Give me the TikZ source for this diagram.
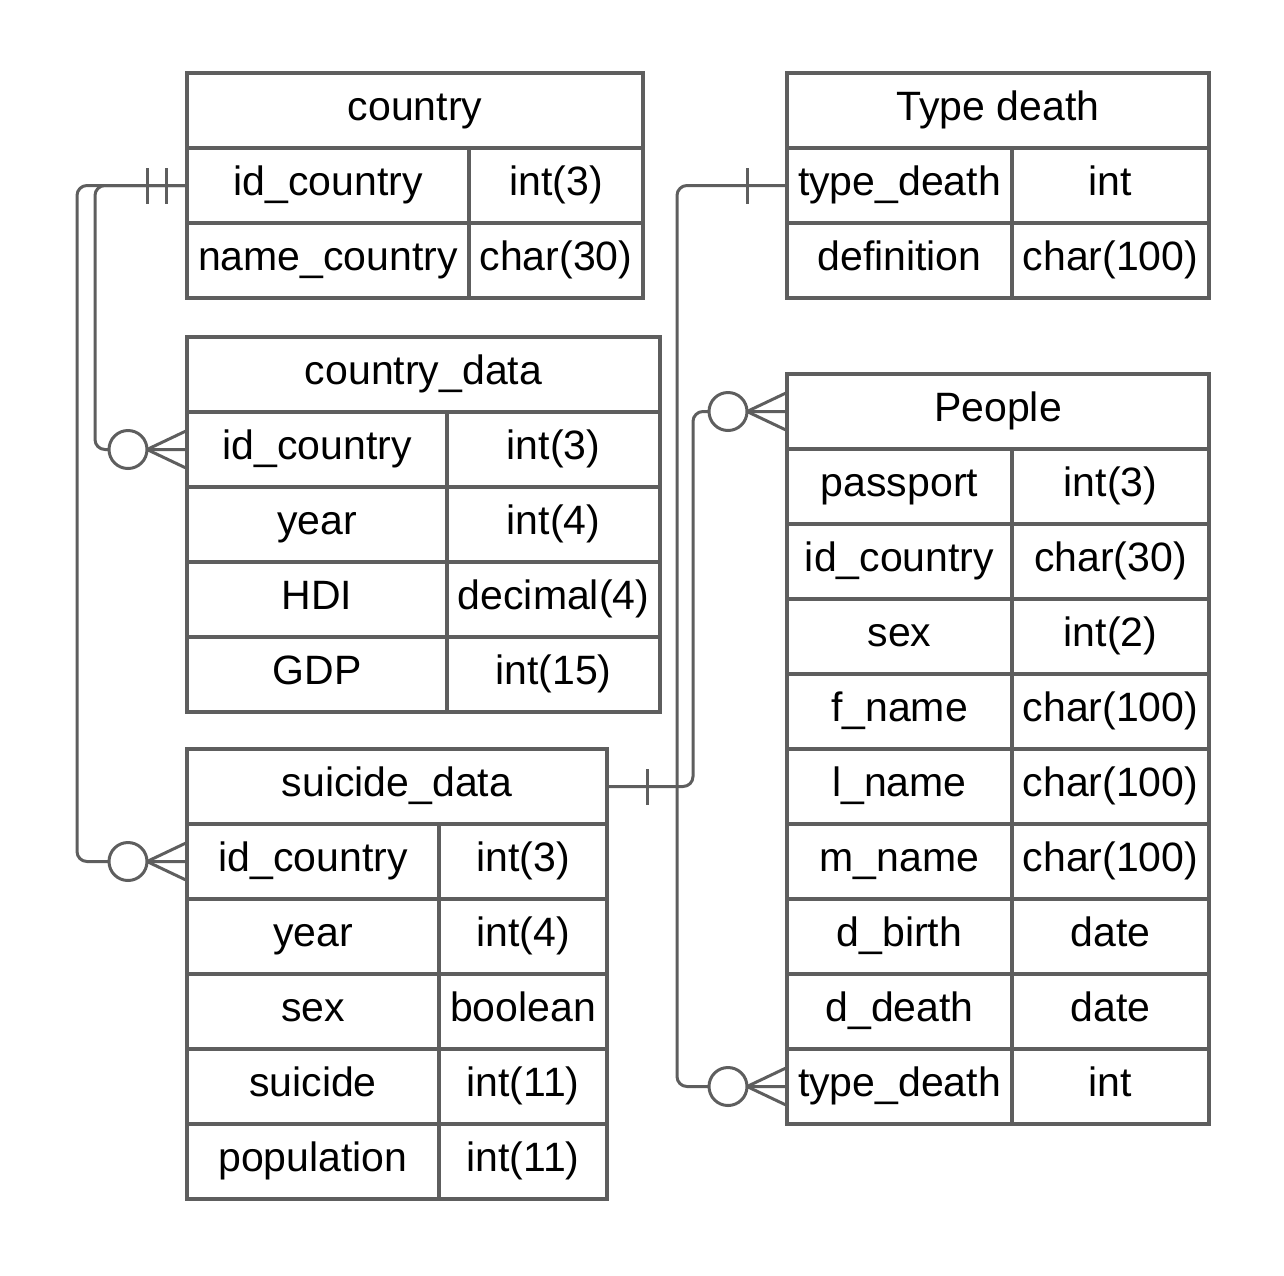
\documentclass[tikz,border=0pt]{standalone}
\usepackage{fontspec}
\setmainfont{Liberation Sans}
\usepackage{tikz}
\usetikzlibrary{positioning,calc}
\definecolor{lineGray}{RGB}{94, 94, 94}
\newcommand{\tblfont}{\fontsize{41}{49}\selectfont}

\begin{document}
\begin{tikzpicture}[x=1pt,y=-1pt,
                cell/.style={draw=lineGray,line width=4.5pt,anchor=north west,
                            minimum height=75pt,inner sep=0pt,outer sep=0pt,
                            text height=31pt,text depth=11pt,font=\tblfont},
                link/.style={draw=lineGray,line width=3pt,rounded corners=10pt},
                zeromany/.pic={\draw[link,fill=white] (-59pt,0) circle (19pt);
                            \draw[link] (-40pt,0) -- (0,19pt) (-40pt,0) -- (0,-19pt);},
                onlyone/.pic={\draw[link] (-40pt,-18pt) -- (-40pt,18pt);},
                onemand/.pic={\draw[link] (-40pt,-18pt) -- (-40pt,18pt) (-21pt,-18pt) -- (-21pt,18pt);}
            ]
                \useasboundingbox (0,0) rectangle (1284,1275);
                % country
                \node[cell,minimum width=456pt] (country-head) at (187,73) {country};
                \node[cell,minimum width=282pt] (country-id) at (187,148) {id\_country};
                \node[cell,minimum width=174pt] (country-idt) at (469,148) {int(3)};
                \node[cell,minimum width=282pt] (country-name) at (187,223) {name\_country};
                \node[cell,minimum width=174pt] (country-namet) at (469,223) {char(30)};
                % Type death
                \node[cell,minimum width=422pt] (tdeath-head) at (787,73) {Type death};
                \node[cell,minimum width=225pt] (tdeath-type) at (787,148) {type\_death};
                \node[cell,minimum width=197pt] (tdeath-typet) at (1012,148) {int};
                \node[cell,minimum width=225pt] (tdeath-def) at (787,223) {definition};
                \node[cell,minimum width=197pt] (tdeath-deft) at (1012,223) {char(100)};
                % country_data
                \node[cell,minimum width=473pt] (cdata-head) at (187,337) {country\_data};
                \node[cell,minimum width=260pt] (cdata-id) at (187,412) {id\_country};
                \node[cell,minimum width=213pt] (cdata-idt) at (447,412) {int(3)};
                \node[cell,minimum width=260pt] (cdata-year) at (187,487) {year};
                \node[cell,minimum width=213pt] (cdata-yeart) at (447,487) {int(4)};
                \node[cell,minimum width=260pt] (cdata-hdi) at (187,562) {HDI};
                \node[cell,minimum width=213pt] (cdata-hdit) at (447,562) {decimal(4)};
                \node[cell,minimum width=260pt] (cdata-gdp) at (187,637) {GDP};
                \node[cell,minimum width=213pt] (cdata-gdpt) at (447,637) {int(15)};
                % suicide_data
                \node[cell,minimum width=420pt] (sdata-head) at (187,749) {suicide\_data};
                \node[cell,minimum width=252pt] (sdata-id) at (187,824) {id\_country};
                \node[cell,minimum width=168pt] (sdata-idt) at (439,824) {int(3)};
                \node[cell,minimum width=252pt] (sdata-year) at (187,899) {year};
                \node[cell,minimum width=168pt] (sdata-yeart) at (439,899) {int(4)};
                \node[cell,minimum width=252pt] (sdata-sex) at (187,974) {sex};
                \node[cell,minimum width=168pt] (sdata-sext) at (439,974) {boolean};
                \node[cell,minimum width=252pt] (sdata-suic) at (187,1049) {suicide};
                \node[cell,minimum width=168pt] (sdata-suict) at (439,1049) {int(11)};
                \node[cell,minimum width=252pt] (sdata-pop) at (187,1124) {population};
                \node[cell,minimum width=168pt] (sdata-popt) at (439,1124) {int(11)};
                % People
                \node[cell,minimum width=422pt] (people-head) at (787,374) {People};
                \node[cell,minimum width=225pt] (people-pass) at (787,449) {passport};
                \node[cell,minimum width=197pt] (people-passt) at (1012,449) {int(3)};
                \node[cell,minimum width=225pt] (people-id) at (787,524) {id\_country};
                \node[cell,minimum width=197pt] (people-idt) at (1012,524) {char(30)};
                \node[cell,minimum width=225pt] (people-sex) at (787,599) {sex};
                \node[cell,minimum width=197pt] (people-sext) at (1012,599) {int(2)};
                \node[cell,minimum width=225pt] (people-fname) at (787,674) {f\_name};
                \node[cell,minimum width=197pt] (people-fnamet) at (1012,674) {char(100)};
                \node[cell,minimum width=225pt] (people-lname) at (787,749) {l\_name};
                \node[cell,minimum width=197pt] (people-lnamet) at (1012,749) {char(100)};
                \node[cell,minimum width=225pt] (people-mname) at (787,824) {m\_name};
                \node[cell,minimum width=197pt] (people-mnamet) at (1012,824) {char(100)};
                \node[cell,minimum width=225pt] (people-birth) at (787,899) {d\_birth};
                \node[cell,minimum width=197pt] (people-birtht) at (1012,899) {date};
                \node[cell,minimum width=225pt] (people-death) at (787,974) {d\_death};
                \node[cell,minimum width=197pt] (people-deatht) at (1012,974) {date};
                \node[cell,minimum width=225pt] (people-tdeath) at (787,1049) {type\_death};
                \node[cell,minimum width=197pt] (people-tdeatht) at (1012,1049) {int};
                % relations
                \draw[link] (country-id.west) -- ++(-110,0) |- (sdata-id.west);
                \draw[link] (country-id.west) -- ++(-92,0) |- (cdata-id.west);
                \draw[link] (tdeath-type.west) -- ++(-110,0) |- (people-tdeath.west);
                \draw[link] (sdata-head.east) -- ++(86,0) |- (people-head.west);
                \pic at (country-id.west) {onemand};
                \pic at (tdeath-type.west) {onlyone};
                \pic[xscale=-1] at (sdata-head.east) {onlyone};
                \pic at (cdata-id.west) {zeromany};
                \pic at (sdata-id.west) {zeromany};
                \pic at (people-head.west) {zeromany};
                \pic at (people-tdeath.west) {zeromany};
            \end{tikzpicture}
\end{document}
